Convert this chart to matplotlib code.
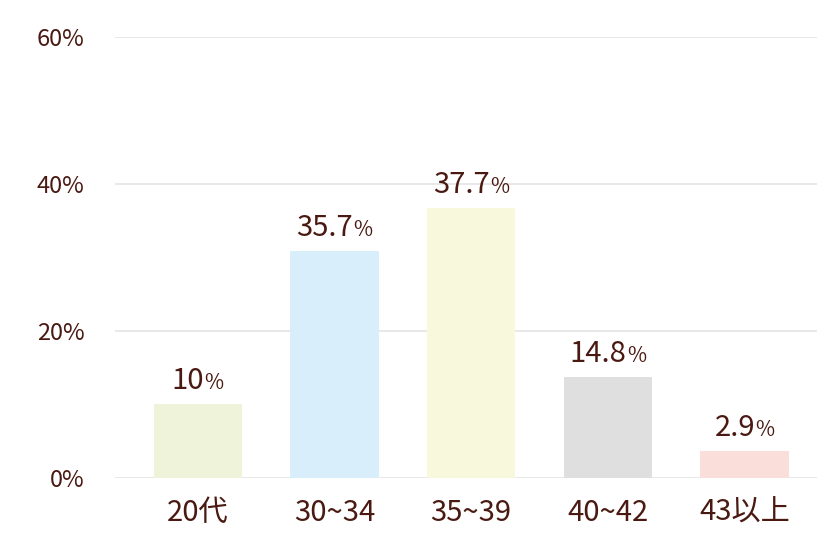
import matplotlib.pyplot as plt

plt.rcParams['font.family'] = ['Noto Sans CJK JP', 'DejaVu Sans']

categories = ['20代', '30~34', '35~39', '40~42', '43以上']
bar_values = [10.1, 30.9, 36.7, 13.8, 3.7]
label_numbers = ['10', '35.7', '37.7', '14.8', '2.9']
bar_colors = ['#EEF3DA', '#D9EEFB', '#F8F8DC', '#DFDFDF', '#FADEDA']
yticks = [0, 20, 40, 60]

text_color = '#4A1A12'

fig = plt.figure(figsize=(8.4, 5.47), dpi=100)
ax = fig.add_axes([115 / 840, 1 - 478.3 / 547, (817 - 115) / 840, (478.3 - 37) / 547])

x = range(len(categories))
ax.bar(x, bar_values, width=0.645, color=bar_colors, zorder=2)

ax.set_ylim(0, 60)
ax.set_xlim(-0.605, 4.53)
ax.set_yticks(yticks)
ax.set_yticklabels([str(v) + '%' for v in yticks], fontsize=17, color=text_color)
ax.set_xticks(list(x))
ax.set_xticklabels(categories, fontsize=21, color=text_color)
ax.tick_params(axis='both', length=0)
ax.tick_params(axis='y', pad=22)
ax.tick_params(axis='x', pad=14)
ax.grid(axis='y', color='#E6E6E6', linewidth=1.3, zorder=0)
for side in ['top', 'right', 'left', 'bottom']:
    ax.spines[side].set_visible(False)

num_texts = []
for i, num in enumerate(label_numbers):
    t = ax.annotate(num, xy=(i, bar_values[i]), xytext=(-7, 11), textcoords='offset points',
                    ha='center', va='baseline', fontsize=21, color=text_color)
    num_texts.append(t)

fig.canvas.draw()
renderer = fig.canvas.get_renderer()
for i, t in enumerate(num_texts):
    bb = t.get_window_extent(renderer)
    cx = ax.transData.transform((i, bar_values[i]))[0]
    dx = (bb.x1 - cx) * 72 / fig.dpi + 0.3
    ax.annotate('%', xy=(i, bar_values[i]), xytext=(dx, 11), textcoords='offset points',
                ha='left', va='baseline', fontsize=15, color=text_color)

fig.savefig('out.png', dpi=100, facecolor='white')
